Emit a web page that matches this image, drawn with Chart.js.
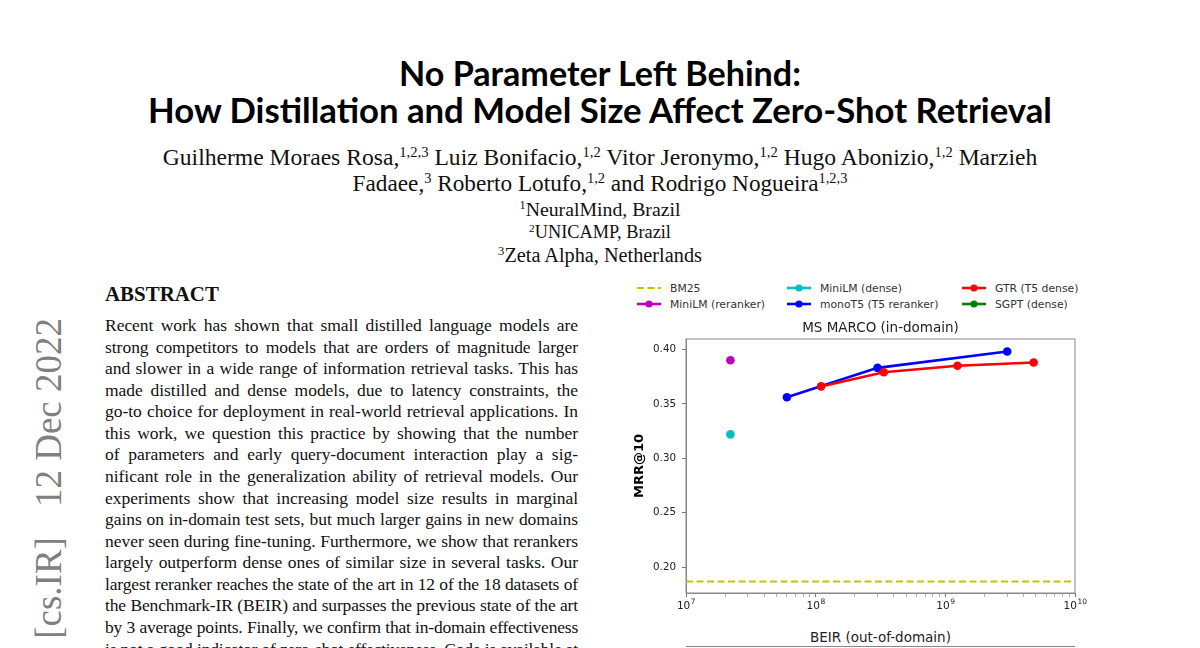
<!DOCTYPE html>
<html>
<head>
<meta charset="utf-8">
<script src="https://cdn.jsdelivr.net/npm/chart.js@4.4.0/dist/chart.umd.min.js"></script>
<style>
html, body { margin: 0; padding: 0; background: #fff; }
body { width: 1200px; height: 648px; overflow: hidden; position: relative; font-family: "Liberation Serif", serif; color: #111; }
.row { position: absolute; left: 0; width: 1200px; text-align: center; white-space: nowrap; }
.row .fit { display: inline-block; }
.title { font-family: Lato, sans-serif; font-weight: 700; font-size: 30px; line-height: 36px; color: #000; }
.auth { font-size: 20px; line-height: 24px; }
.aff { font-size: 17px; line-height: 20px; }
sup { font-size: 0.62em; line-height: 0; vertical-align: 0.55em; }
.abs { position: absolute; left: 105px; width: 473px; font-size: 17.5px; line-height: 20px; white-space: nowrap; text-align: justify; text-align-last: justify; }
.abshead { position: absolute; left: 105px; font-weight: 700; font-size: 18px; line-height: 22px; white-space: nowrap; }
#stamp { position: absolute; left: 30px; top: 678px; width: 360px; text-align: right; font-size: 37px; line-height: 1; color: #808080; white-space: nowrap; transform: rotate(-90deg); transform-origin: 0 0; }
#legend { position: absolute; left: 637px; top: 280px; display: grid; grid-template-columns: 150px 175px 140px; grid-template-rows: 16px 16px; grid-auto-flow: column; font-family: "DejaVu Sans", sans-serif; font-size: 10.8px; color: #333; }
#legend div { display: flex; align-items: center; white-space: nowrap; }
#legend svg { margin-right: 9px; }
#wrap { position: absolute; left: 600px; top: 312px; width: 500px; height: 306px; }
#beir { position: absolute; left: 686px; width: 389px; top: 629px; text-align: center; font-family: "DejaVu Sans", sans-serif; font-size: 13.5px; color: #222; }
#nextframe { position: absolute; left: 686px; width: 389px; top: 646px; border-top: 1px solid #888; }
</style>
</head>
<body>

<div class="row title" style="top:55px"><span class="fit" data-w="402">No Parameter Left Behind:</span></div>
<div class="row title" style="top:92px"><span class="fit" data-w="904">How Distillation and Model Size Affect Zero-Shot Retrieval</span></div>
<div class="row auth" style="top:145px"><span class="fit" data-w="875">Guilherme Moraes Rosa,<sup>1,2,3</sup> Luiz Bonifacio,<sup>1,2</sup> Vitor Jeronymo,<sup>1,2</sup> Hugo Abonizio,<sup>1,2</sup> Marzieh</span></div>
<div class="row auth" style="top:171px"><span class="fit" data-w="495">Fadaee,<sup>3</sup> Roberto Lotufo,<sup>1,2</sup> and Rodrigo Nogueira<sup>1,2,3</sup></span></div>
<div class="row aff" style="top:199px"><span class="fit" data-w="161"><sup>1</sup>NeuralMind, Brazil</span></div>
<div class="row aff" style="top:222px"><span class="fit" data-w="142"><sup>2</sup>UNICAMP, Brazil</span></div>
<div class="row aff" style="top:245px"><span class="fit" data-w="204"><sup>3</sup>Zeta Alpha, Netherlands</span></div>

<div class="abshead" style="top:283px"><span class="fit" data-w="114">ABSTRACT</span></div>
<div id="abstract"></div>

<div id="stamp">[cs.IR]<span style="display:inline-block;width:30px"></span>12 Dec 2022</div>

<div id="legend"></div>
<div id="wrap"><canvas id="msmarco"></canvas></div>
<div id="beir">BEIR (out-of-domain)</div>
<div id="nextframe"></div>

<script>
// abstract lines, broken as in the paper
const abstractLines = [
  "Recent work has shown that small distilled language models are",
  "strong competitors to models that are orders of magnitude larger",
  "and slower in a wide range of information retrieval tasks. This has",
  "made distilled and dense models, due to latency constraints, the",
  "go-to choice for deployment in real-world retrieval applications. In",
  "this work, we question this practice by showing that the number",
  "of parameters and early query-document interaction play a sig-",
  "nificant role in the generalization ability of retrieval models. Our",
  "experiments show that increasing model size results in marginal",
  "gains on in-domain test sets, but much larger gains in new domains",
  "never seen during fine-tuning. Furthermore, we show that rerankers",
  "largely outperform dense ones of similar size in several tasks. Our",
  "largest reranker reaches the state of the art in 12 of the 18 datasets of",
  "the Benchmark-IR (BEIR) and surpasses the previous state of the art",
  "by 3 average points. Finally, we confirm that in-domain effectiveness",
  "is not a good indicator of zero-shot effectiveness. Code is available at"
];

// chart data (model size in parameters vs MRR@10 on MS MARCO dev)
const bm25X = [1e7, 1e10];
const bm25Y = [0.187, 0.187];
const miniRerankX = [2.2e7];
const miniRerankY = [0.390];
const miniDenseX = [2.2e7];
const miniDenseY = [0.322];
const monoT5X = [6e7, 3e8, 3e9];
const monoT5Y = [0.356, 0.383, 0.398];
const gtrX = [1.1e8, 3.35e8, 1.24e9, 4.8e9];
const gtrY = [0.366, 0.379, 0.385, 0.388];
const sgptX = [];
const sgptY = [];

const yTicks = [0.20, 0.25, 0.30, 0.35, 0.40];
const xTicks = [1e7, 1e8, 1e9, 1e10];
const xTickExp = ['7', '8', '9', '10'];

// abstract text
const absBox = document.getElementById('abstract');
abstractLines.forEach((t, i) => {
  const d = document.createElement('div');
  d.className = 'abs';
  d.style.top = (315 + i * 21.57) + 'px';
  d.textContent = t;
  absBox.appendChild(d);
});

function fitSpans() {
  document.querySelectorAll('.fit').forEach(el => {
    const w = el.getBoundingClientRect().width;
    const fs = parseFloat(getComputedStyle(el).fontSize);
    el.style.fontSize = (fs * (+el.dataset.w) / w) + 'px';
  });
  // tighten abstract lines that are wider than the column
  document.querySelectorAll('.abs').forEach(el => {
    const s = document.createElement('span');
    s.textContent = el.textContent;
    el.textContent = '';
    el.appendChild(s);
    const w = s.getBoundingClientRect().width;
    if (w > 471) el.style.letterSpacing = ((471 - w) / s.textContent.length) + 'px';
  });
}
fitSpans();

function pts(xs, ys) { return xs.map((x, i) => ({x: x, y: ys[i]})); }

const series = [
  {label: 'BM25', data: pts(bm25X, bm25Y), color: '#c4c400', dash: [7, 3.5], radius: 0, width: 2},
  {label: 'MiniLM (reranker)', data: pts(miniRerankX, miniRerankY), color: '#bf00bf', dash: [], radius: 4.3, width: 2.6},
  {label: 'MiniLM (dense)', data: pts(miniDenseX, miniDenseY), color: '#00bfbf', dash: [], radius: 4.3, width: 2.6},
  {label: 'monoT5 (T5 reranker)', data: pts(monoT5X, monoT5Y), color: '#0000ff', dash: [], radius: 4.3, width: 2.6},
  {label: 'GTR (T5 dense)', data: pts(gtrX, gtrY), color: '#ff0000', dash: [], radius: 4.3, width: 2.6},
  {label: 'SGPT (dense)', data: pts(sgptX, sgptY), color: '#008000', dash: [], radius: 4.3, width: 2.6}
];

// legend, matplotlib style (3 columns, filled column by column)
const legend = document.getElementById('legend');
series.forEach(s => {
  const item = document.createElement('div');
  const dot = s.radius ? `<circle cx="12" cy="5" r="3.6" fill="${s.color}"/>` : '';
  item.innerHTML = `<svg width="24" height="10"><line x1="0" y1="5" x2="24" y2="5" stroke="${s.color}" stroke-width="${s.width}" stroke-dasharray="${s.dash.join(' ')}"/>${dot}</svg><span>${s.label}</span>`;
  legend.appendChild(item);
});

// axes frame on all four sides, and 10^n labels with a raised exponent
const framePlugin = {
  id: 'frame',
  afterDraw(chart) {
    const {ctx, chartArea: a} = chart;
    ctx.save();
    ctx.strokeStyle = '#888';
    ctx.lineWidth = 1;
    ctx.strokeRect(a.left, a.top, a.right - a.left, a.bottom - a.top);
    const xs = chart.scales.x;
    ctx.fillStyle = '#222';
    ctx.textBaseline = 'alphabetic';
    xTicks.forEach((v, i) => {
      const px = xs.getPixelForValue(v);
      ctx.font = '10.5px "DejaVu Sans"';
      const bw = ctx.measureText('10').width;
      ctx.font = '7.5px "DejaVu Sans"';
      const ew = ctx.measureText(xTickExp[i]).width;
      const x0 = px - (bw + ew) / 2;
      ctx.font = '10.5px "DejaVu Sans"';
      ctx.fillText('10', x0, a.bottom + 16);
      ctx.font = '7.5px "DejaVu Sans"';
      ctx.fillText(xTickExp[i], x0 + bw + 0.5, a.bottom + 11);
    });
    ctx.restore();
  }
};

const isMajor = v => Math.abs(Math.log10(v) - Math.round(Math.log10(v))) < 1e-9;

new Chart(document.getElementById('msmarco'), {
  type: 'scatter',
  data: {
    datasets: series.map((s, i) => ({
      label: s.label,
      data: s.data,
      showLine: true,
      borderColor: s.color,
      backgroundColor: s.color,
      borderWidth: s.width,
      borderDash: s.dash,
      pointRadius: s.radius,
      pointBorderWidth: 0,
      pointHoverRadius: s.radius,
      order: series.length - i
    }))
  },
  options: {
    responsive: true,
    maintainAspectRatio: false,
    animation: false,
    layout: {padding: {left: 0, right: 25, top: 0, bottom: 0}},
    plugins: {
      legend: {display: false},
      tooltip: {enabled: false},
      title: {
        display: true,
        fullSize: false,
        text: 'MS MARCO (in-domain)',
        color: '#222',
        font: {family: 'DejaVu Sans', size: 13.5, weight: 'normal'},
        padding: {top: 7.9, bottom: 2.9}
      }
    },
    scales: {
      x: {
        type: 'logarithmic',
        min: 1e7,
        max: 1e10,
        afterBuildTicks: scale => {
          const vals = [];
          for (let e = 7; e < 10; e++) for (let m = 1; m < 10; m++) vals.push(m * Math.pow(10, e));
          vals.push(1e10);
          scale.ticks = vals.map(v => ({value: v, major: isMajor(v)}));
        },
        afterFit: scale => { scale.height = 25; },
        ticks: {
          autoSkip: false,
          maxRotation: 0,
          padding: 2,
          color: '#222',
          font: {family: 'DejaVu Sans', size: 10},
          callback: () => ''
        },
        grid: {
          drawOnChartArea: false,
          tickLength: 4,
          tickColor: '#777',
          tickWidth: ctx => (ctx.tick && isMajor(ctx.tick.value)) ? 1.1 : 0.6
        },
        border: {color: '#888', width: 1}
      },
      y: {
        min: 0.1764,
        max: 0.4095,
        afterBuildTicks: scale => { scale.ticks = yTicks.map(v => ({value: v})); },
        afterFit: scale => { scale.width = 86; },
        ticks: {
          padding: 6,
          color: '#222',
          font: {family: 'DejaVu Sans', size: 10.3},
          callback: v => v.toFixed(2)
        },
        grid: {drawOnChartArea: false, tickLength: 4, tickColor: '#777'},
        border: {color: '#888', width: 1},
        title: {
          display: true,
          text: 'MRR@10',
          color: '#000',
          font: {family: 'DejaVu Sans', size: 13, weight: 'bold'},
          padding: {top: 32, bottom: 0}
        }
      }
    }
  },
  plugins: [framePlugin]
});
</script>
</body>
</html>
